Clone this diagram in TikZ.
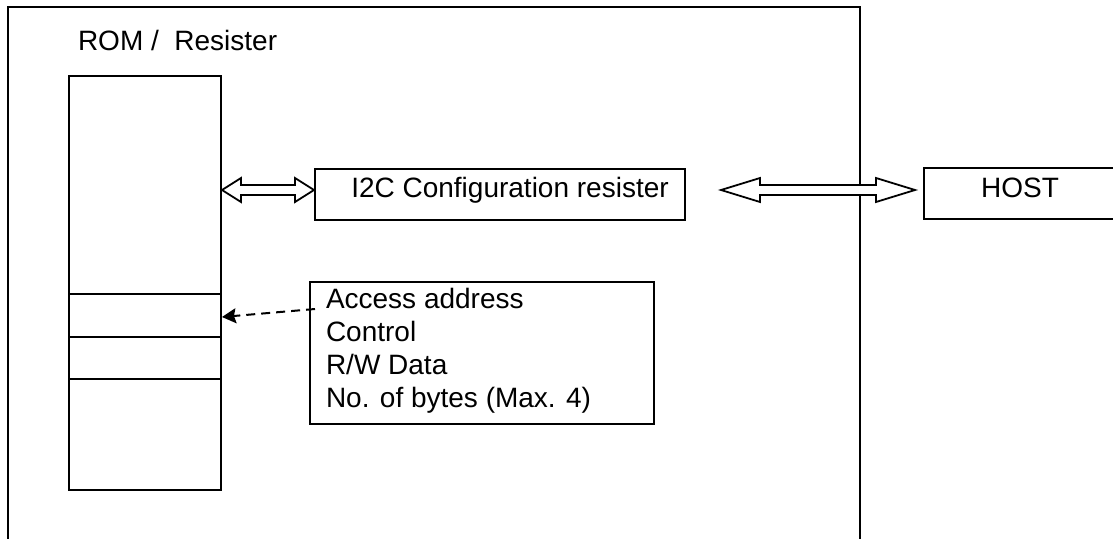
\documentclass[tikz,border=0pt]{standalone}
\usepackage{fontspec}
\setmainfont{Liberation Sans}
\usetikzlibrary{calc,arrows.meta}

\tikzset{
  box/.style={draw, line width=2pt, inner sep=0pt},
  txt/.style={inner sep=0pt, font=\fontsize{28}{33}\selectfont},
  bus/.style={line width=1.8pt, fill=white},
}

% hollow double arrow: from, to, head length
\newcommand\hollowarrow[3]{%
  \draw[bus] (#1) -- ++(#3,-12) -- ++(0,7) -- ($(#2)+(-#3,-5)$) -- ++(0,-7)
    -- (#2) -- ++(-#3,12) -- ++(0,-7) -- ($(#1)+(#3,5)$) -- ++(0,7) -- cycle;
}

\begin{document}
\begin{tikzpicture}[x=1pt, y=-1pt, line width=2pt]

    \useasboundingbox (0,0) rectangle (1113,538);

    % outer frame, open at the bottom
    \draw (8,560) -- (8,7) -- (860,7) -- (860,560);

    \node[txt, anchor=base west] (romlbl) at (77,50) {ROM / ~Resister};

    % memory column
    \node[box, minimum width=152, minimum height=414] (col) at (145,283) {};
    \foreach \y in {294,337,379}
        \draw (col.west |- 0,\y) -- (col.east |- 0,\y);

    \node[box, minimum width=370, minimum height=51] (i2c) at (500,194.5) {};
    \node[txt, anchor=base] (i2clbl) at (510,197) {I2C Configuration resister};

    \node[box, minimum width=192, minimum height=51] (host) at (1020,193.5) {};
    \node[txt, anchor=base] (hostlbl) at (host.center |- 0,197) {HOST};

    \node[box, minimum width=344, minimum height=142] (info) at (482,353) {};
    \node[txt, anchor=base west] (line1) at (325,308) {Access address};
    \node[txt, anchor=base west] (line2) at (325,341) {Control};
    \node[txt, anchor=base west] (line3) at (325,374) {R/W Data};
    \node[txt, anchor=base west] (line4) at (325,407) {No. of bytes (Max. 4)};

    % buses
    \coordinate (busl) at (721,190);
    \coordinate (busr) at (915,190);
    \hollowarrow{col.east |- 0,190}{i2c.west |- 0,190}{19}
    \hollowarrow{busl}{busr}{39}

    \coordinate (src) at (315,309);
    \draw[dash pattern=on 9pt off 6pt, -{Stealth[length=14pt, width=15pt, inset=2pt]}]
        (src) -- (col.east |- 0,317);

\end{tikzpicture}
\end{document}
